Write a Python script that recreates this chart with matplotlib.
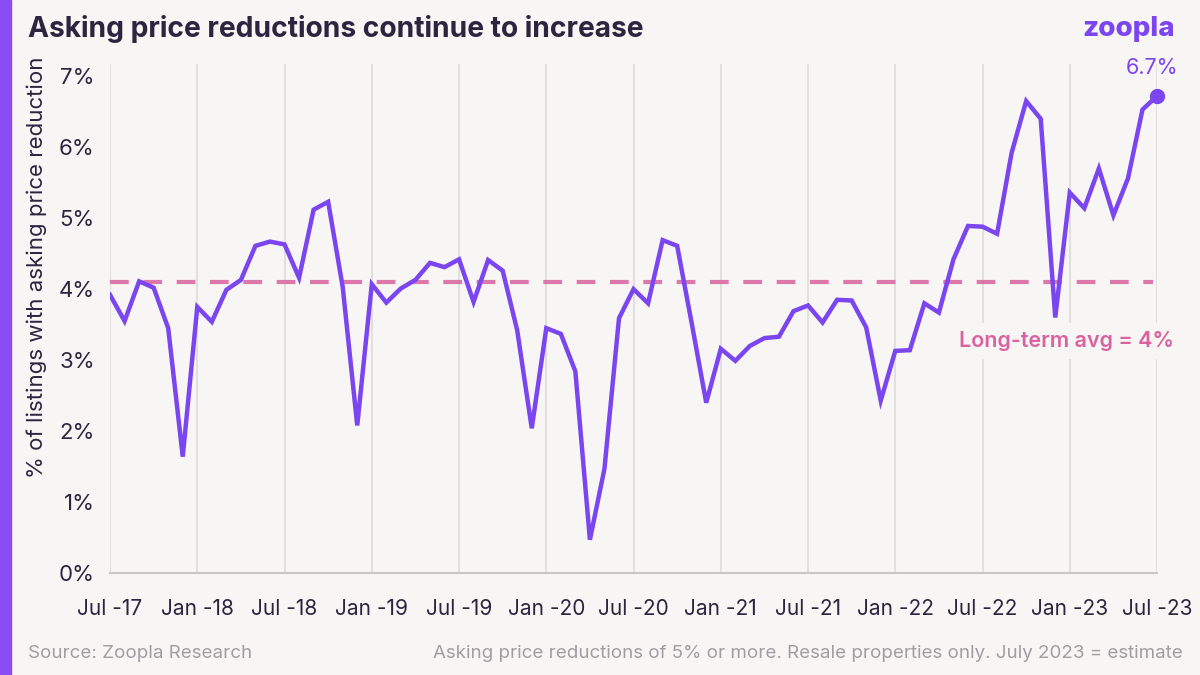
import matplotlib.pyplot as plt
import numpy as np

# Monthly share of listings with an asking price reduction, Jul 2017 to Jul 2023
valores = [3.92, 3.55, 4.11, 4.02, 3.45, 1.64, 3.75, 3.54, 3.99, 4.13, 4.61, 4.67,
           4.63, 4.16, 5.12, 5.23, 4.03, 2.08, 4.07, 3.81, 4.01, 4.13, 4.37, 4.31,
           4.42, 3.82, 4.41, 4.26, 3.42, 2.04, 3.45, 3.37, 2.84, 0.47, 1.47, 3.59,
           4.00, 3.80, 4.69, 4.61, 3.52, 2.40, 3.16, 2.99, 3.20, 3.31, 3.33, 3.69,
           3.77, 3.53, 3.85, 3.84, 3.46, 2.43, 3.13, 3.14, 3.80, 3.67, 4.42, 4.89,
           4.88, 4.78, 5.92, 6.65, 6.40, 3.60, 5.36, 5.14, 5.70, 5.04, 5.56, 6.53,
           6.72]
promedio = 4.1
etiquetas = ['Jul -17', 'Jan -18', 'Jul -18', 'Jan -19', 'Jul -19', 'Jan -20', 'Jul -20',
             'Jan -21', 'Jul -21', 'Jan -22', 'Jul -22', 'Jan -23', 'Jul -23']
yticks = [0, 1, 2, 3, 4, 5, 6, 7]

fondo = '#f7f6f4'
morado = '#7b45f0'
rosa = '#d9629f'

plt.rcParams['font.family'] = ['Inter', 'DejaVu Sans']

fig = plt.figure(figsize=(12, 6.75), dpi=100, facecolor=fondo)
ax = fig.add_axes([0.0917, 0.151, 0.8725, 0.754])
ax.set_facecolor(fondo)

meses = np.arange(len(valores))
ax.plot(meses, valores, color=morado, lw=3.2, solid_joinstyle='miter', zorder=4)
ax.plot(meses[-1], valores[-1], 'o', color=morado, ms=10, clip_on=False, zorder=5)
ax.plot([0, 71.7], [promedio, promedio], color=rosa, lw=3, ls=(0, (4.5, 3.5)),
        alpha=0.85, zorder=3)

ax.set_xlim(0, 72)
ax.set_ylim(0, 7.17)
ax.set_xticks(np.arange(0, 73, 6))
ax.set_xticklabels(etiquetas)
ax.set_yticks(yticks)
ax.set_yticklabels([f'{v}%' for v in yticks])
ax.grid(axis='x', color='#e2e0de', lw=1.5)
ax.tick_params(axis='x', length=0, labelsize=15, colors='#2b2540', pad=19)
ax.tick_params(axis='y', length=0, labelsize=16, colors='#2b2540', pad=11)
for s in ['top', 'right', 'left']:
    ax.spines[s].set_visible(False)
ax.spines['bottom'].set_color('#c9c7c5')
ax.spines['bottom'].set_linewidth(1.5)

ax.set_ylabel('% of listings with asking price reduction', fontsize=16,
              color='#2b2540')
ax.yaxis.set_label_coords(-0.06, 0.60)

ax.text(73.5, 6.97, '6.7%', color=morado, fontsize=15.5, ha='right', va='bottom')
ax.text(73.2, 3.27, 'Long-term avg = 4%', color=rosa, fontsize=15.5, ha='right',
        va='center', fontweight='semibold', zorder=6,
        bbox=dict(facecolor=fondo, edgecolor='none', pad=6))

# Barra lateral, titulo y pie
fig.patches.append(plt.Rectangle((0, 0), 0.009, 1, transform=fig.transFigure,
                                 color='#8a4cf5', zorder=0))
fig.text(0.0235, 0.957, 'Asking price reductions continue to increase', fontsize=20.3,
         fontweight='bold', color='#2b2540', va='center')
fig.text(0.979, 0.957, 'zoopla', fontsize=20, fontweight='heavy', color=morado,
         ha='right', va='center')
fig.text(0.0235, 0.032, 'Source: Zoopla Research', fontsize=13.5, color='#a09ea3',
         va='center')
fig.text(0.986, 0.032, 'Asking price reductions of 5% or more. Resale properties only. '
         'July 2023 = estimate', fontsize=13.5, color='#a09ea3', ha='right', va='center')

plt.savefig('out.png', dpi=100, facecolor=fondo)
